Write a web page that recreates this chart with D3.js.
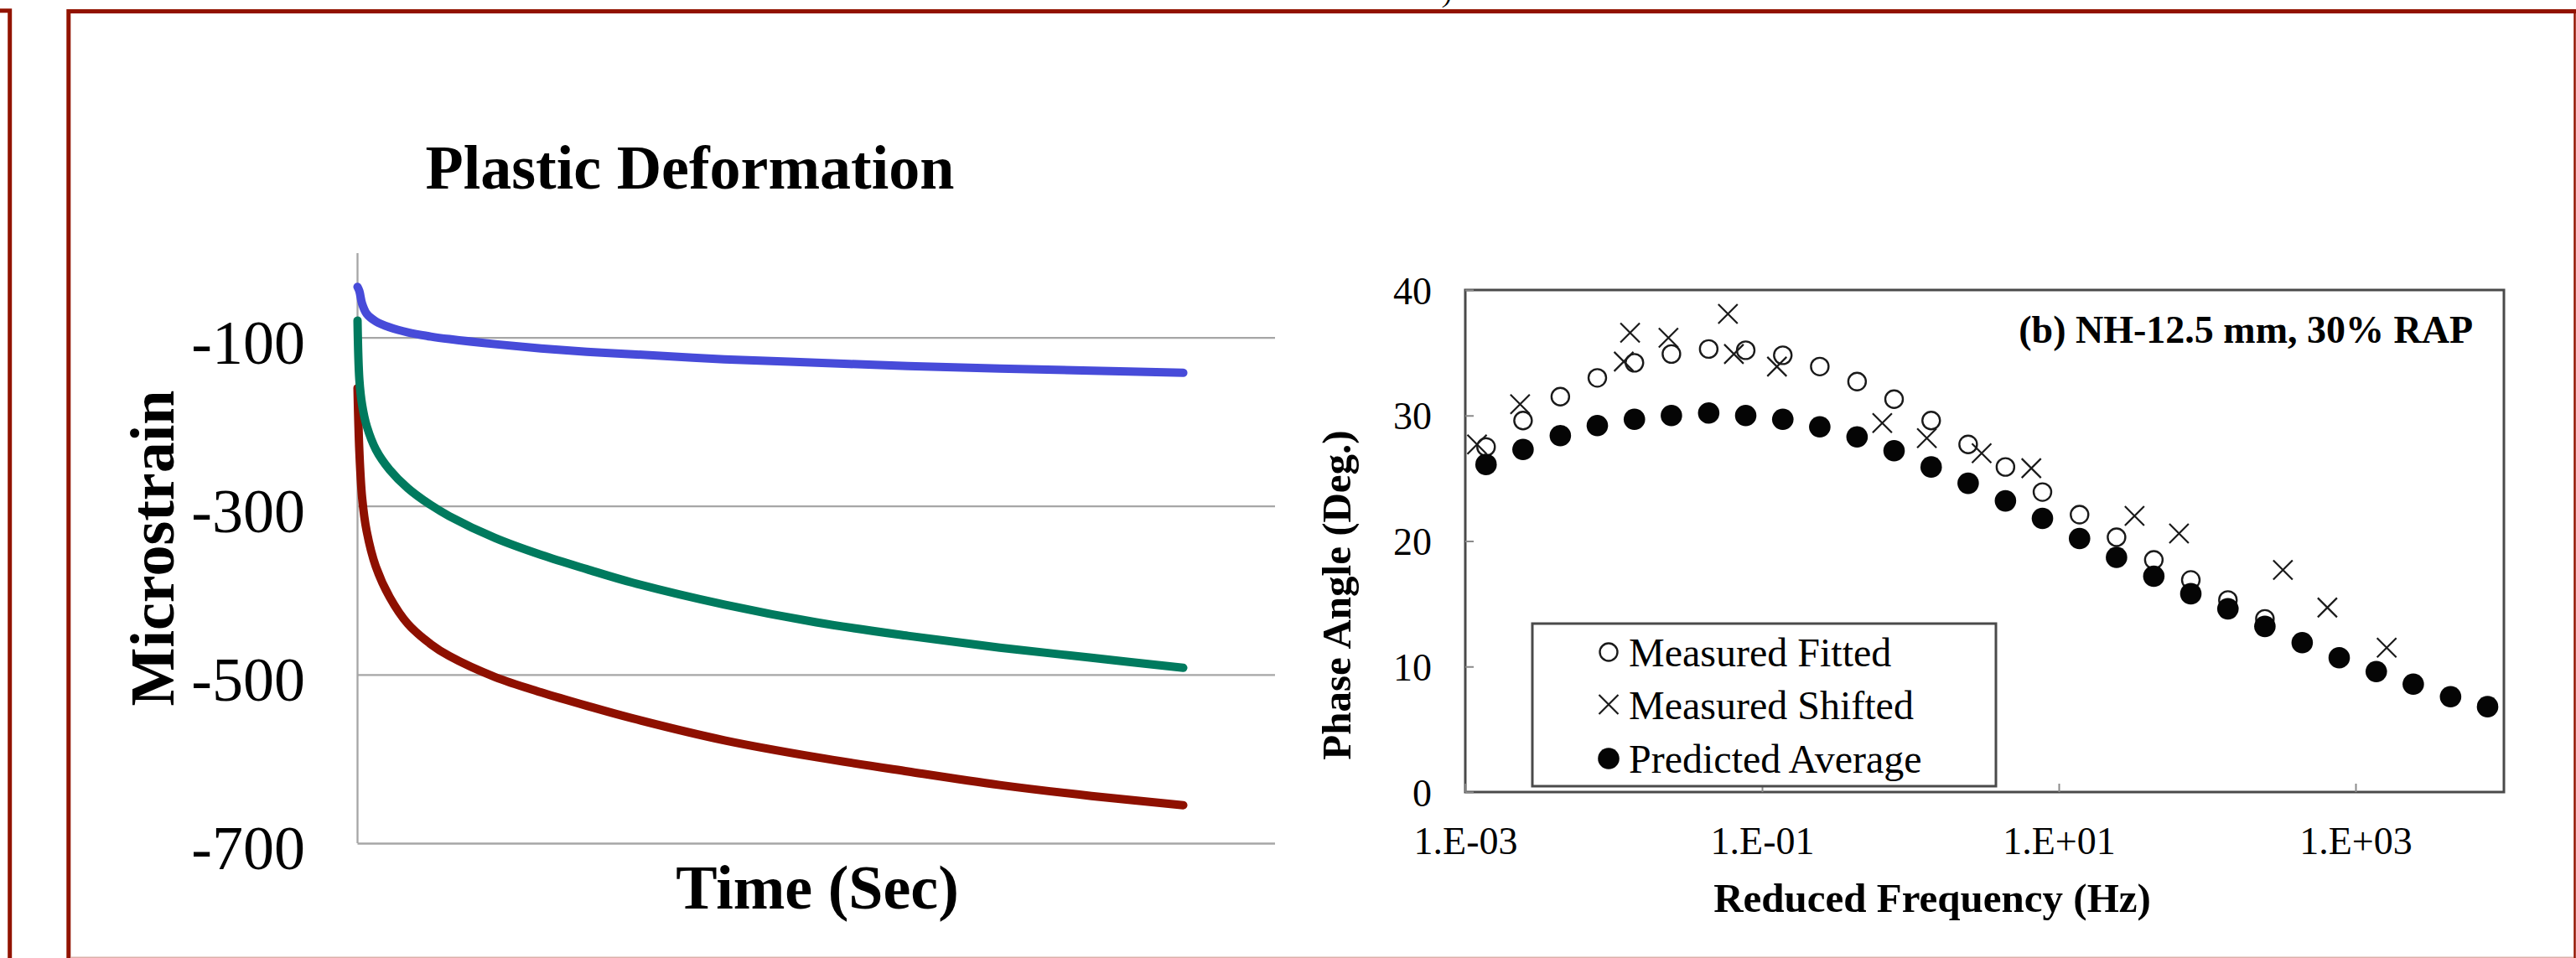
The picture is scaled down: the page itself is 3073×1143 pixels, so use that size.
<!DOCTYPE html>
<html>
<head>
<meta charset="utf-8">
<script src="https://cdn.jsdelivr.net/npm/d3@7"></script>
<style>
  body { margin: 0; background: #fff; }
  text { font-family: "Liberation Serif", "Times New Roman", serif; fill: #000; }
</style>
</head>
<body>
<svg id="chart"></svg>
<script>
// ---- left chart: plastic deformation curves ----
const timeSec = [0, 20, 50, 100, 200, 350, 550, 800, 1000, 1500, 2000, 2500, 3000, 4000, 5000, 6000, 7000, 8000, 9000];
const strainBlue = [-40, -45, -60, -72, -81, -88, -94, -99, -102, -108, -113, -117, -120, -126, -130, -134, -137, -139.5, -142];
const strainGreen = [-80, -150, -180, -205, -233, -257, -279, -299, -312, -338, -358, -375, -391, -417, -438, -454, -468, -480, -492];
const strainRed = [-160, -235, -290, -330, -372, -408, -440, -464, -478, -503, -521, -537, -552, -578, -598, -615, -631, -644, -655];
const strainTicks = [-100, -300, -500, -700];

// ---- right chart: phase angle master curve ----
const freqGrid = [0.00138, 0.00245, 0.00437, 0.00776, 0.0138, 0.0245, 0.0437, 0.0776, 0.138, 0.245, 0.437, 0.776,
  1.38, 2.45, 4.37, 7.76, 13.8, 24.5, 43.7, 77.6, 138, 245, 437, 776, 1380, 2450, 4370, 7760];
const predictedAvg = [26.1, 27.3, 28.4, 29.2, 29.7, 30.0, 30.2, 30.0, 29.7, 29.1, 28.3, 27.2,
  25.9, 24.6, 23.2, 21.8, 20.2, 18.7, 17.2, 15.8, 14.6, 13.2, 11.9, 10.7, 9.6, 8.6, 7.6, 6.8];
const measuredFitted = [27.5, 29.6, 31.5, 33.0, 34.2, 34.9, 35.3, 35.2, 34.8, 33.9, 32.7, 31.3,
  29.6, 27.7, 25.9, 23.9, 22.1, 20.3, 18.5, 16.9, 15.3, 13.8];
const shiftedFreq = [0.0012, 0.00234, 0.0117, 0.0129, 0.0234, 0.0589, 0.0646, 0.126, 0.646, 1.29, 3.02, 6.53, 32.4, 64.6, 324, 646, 1622];
const measuredShifted = [27.7, 30.9, 34.3, 36.6, 36.2, 38.1, 34.9, 33.9, 29.4, 28.2, 27.0, 25.8, 22.0, 20.6, 17.7, 14.7, 11.5];
const freqTicks = [1e-3, 1e-1, 1e1, 1e3];
const freqTickLabels = ["1.E-03", "1.E-01", "1.E+01", "1.E+03"];
const phaseTicks = [0, 10, 20, 30, 40];
const legendLabels = ["Measured Fitted", "Measured Shifted", "Predicted Average"];

const W = 3073, H = 1143;
const frameRed = "#921300";

const svg = d3.select("#chart").attr("width", W).attr("height", H);

// slide frames
svg.append("path")
  .attr("d", "M0,12.8H11.7V1150")
  .attr("fill", "none").attr("stroke", frameRed).attr("stroke-width", 5);
svg.append("path")
  .attr("d", "M81.8,1150V13.5H3075")
  .attr("fill", "none").attr("stroke", frameRed).attr("stroke-width", 5);
svg.append("line")
  .attr("x1", 3071.5).attr("x2", 3071.5).attr("y1", 14).attr("y2", H)
  .attr("stroke", frameRed).attr("stroke-width", 2.5);
svg.append("line")
  .attr("x1", 84).attr("x2", 3070).attr("y1", 1142.5).attr("y2", 1142.5)
  .attr("stroke", "#dcb0aa").attr("stroke-width", 2);
svg.append("text").attr("x", 1722).attr("y", 3)
  .style("font-size", "30px").style("font-style", "italic").text(")");

// ================= left chart =================
const xT = d3.scaleLinear().domain([0, 10000]).range([426.5, 1521]);
const yS = d3.scaleLinear().domain([-700, 0]).range([1006, 302]);

const left = svg.append("g");

// gridlines
left.append("g")
  .attr("transform", `translate(${xT(0)},0)`)
  .call(d3.axisLeft(yS).tickValues(strainTicks).tickSize(-(xT(10000) - xT(0))).tickFormat(""))
  .call((g) => g.select(".domain").remove())
  .call((g) => g.selectAll("line").attr("stroke", "#a6a6a6").attr("stroke-width", 2.3));

// vertical axis line
left.append("line")
  .attr("x1", xT(0)).attr("x2", xT(0)).attr("y1", yS(0)).attr("y2", yS(-700))
  .attr("stroke", "#a6a6a6").attr("stroke-width", 2.3);

// tick labels
left.selectAll(".ylab")
  .data(strainTicks)
  .enter()
  .append("text")
  .attr("x", 364)
  .attr("y", (d) => yS(d) + 31)
  .attr("text-anchor", "end")
  .style("font-size", "74px")
  .text((d) => "-" + Math.abs(d));

const strainLine = d3.line()
  .x((d) => xT(d[0]))
  .y((d) => yS(d[1]))
  .curve(d3.curveCatmullRom.alpha(0.5));

const series = [
  { vals: strainRed, color: "#8e1000" },
  { vals: strainGreen, color: "#007a5e" },
  { vals: strainBlue, color: "#474bd9" },
];
series.forEach((s) => {
  left.append("path")
    .datum(timeSec.map((t, i) => [t, s.vals[i]]))
    .attr("d", strainLine)
    .attr("fill", "none")
    .attr("stroke", s.color)
    .attr("stroke-width", 10)
    .attr("stroke-linecap", "round")
    .attr("stroke-linejoin", "round");
});

left.append("text")
  .attr("x", 823).attr("y", 225)
  .attr("text-anchor", "middle")
  .style("font-size", "74px").style("font-weight", "bold")
  .text("Plastic Deformation");

left.append("text")
  .attr("x", 975).attr("y", 1084)
  .attr("text-anchor", "middle")
  .style("font-size", "74px").style("font-weight", "bold")
  .text("Time (Sec)");

left.append("text")
  .attr("transform", "translate(207,654) rotate(-90)")
  .attr("text-anchor", "middle")
  .style("font-size", "74px").style("font-weight", "bold")
  .text("Microstrain");

// ================= right chart =================
const xF = d3.scaleLog().domain([1e-3, 1e4]).range([1748, 2987]);
const yP = d3.scaleLinear().domain([0, 40]).range([945, 346]);

const right = svg.append("g");
const axisGray = "#4a4a4a";

right.append("rect")
  .attr("x", xF(1e-3)).attr("y", yP(40))
  .attr("width", xF(1e4) - xF(1e-3)).attr("height", yP(0) - yP(40))
  .attr("fill", "none").attr("stroke", axisGray).attr("stroke-width", 3);

// x axis
right.append("g")
  .attr("transform", `translate(0,${yP(0)})`)
  .call(d3.axisBottom(xF).tickValues(freqTicks).tickSize(-10).tickFormat((d, i) => freqTickLabels[i]))
  .call((g) => g.select(".domain").remove())
  .call((g) => g.selectAll("line").attr("stroke", "#8a8a8a").attr("stroke-width", 2))
  .call((g) => g.selectAll("text")
    .attr("y", 74).attr("dy", 0)
    .attr("fill", "#000")
    .style("font-family", '"Liberation Serif", "Times New Roman", serif')
    .style("font-size", "46px"));

// y axis
right.append("g")
  .attr("transform", `translate(${xF(1e-3)},0)`)
  .call(d3.axisLeft(yP).tickValues(phaseTicks).tickSize(-10).tickFormat(d3.format("d")))
  .call((g) => g.select(".domain").remove())
  .call((g) => g.selectAll("line").attr("stroke", "#8a8a8a").attr("stroke-width", 2))
  .call((g) => g.selectAll("text")
    .attr("x", -40).attr("dy", 16)
    .attr("fill", "#000")
    .style("font-family", '"Liberation Serif", "Times New Roman", serif')
    .style("font-size", "46px"));

right.append("text")
  .attr("x", 2305).attr("y", 1088)
  .attr("text-anchor", "middle")
  .style("font-size", "49px").style("font-weight", "bold")
  .text("Reduced Frequency (Hz)");

right.append("text")
  .attr("transform", "translate(1611,710) rotate(-90)")
  .attr("text-anchor", "middle")
  .style("font-size", "49px").style("font-weight", "bold")
  .text("Phase Angle (Deg.)");

right.append("text")
  .attr("x", 2950).attr("y", 409)
  .attr("text-anchor", "end")
  .style("font-size", "46px").style("font-weight", "bold")
  .text("(b) NH-12.5 mm, 30% RAP");

const crossPath = (cx, cy, s) =>
  `M${cx - s},${cy - s}L${cx + s},${cy + s}M${cx - s},${cy + s}L${cx + s},${cy - s}`;

// measured fitted (open circles)
right.selectAll(".fit")
  .data(measuredFitted)
  .enter()
  .append("circle")
  .attr("cx", (d, i) => xF(freqGrid[i]))
  .attr("cy", (d) => yP(d))
  .attr("r", 10.5)
  .attr("fill", "none")
  .attr("stroke", "#1a1a1a")
  .attr("stroke-width", 2.4);

// predicted average (filled)
right.selectAll(".pred")
  .data(predictedAvg)
  .enter()
  .append("circle")
  .attr("cx", (d, i) => xF(freqGrid[i]))
  .attr("cy", (d) => yP(d))
  .attr("r", 12.8)
  .attr("fill", "#050505");

// measured shifted (crosses)
right.selectAll(".shift")
  .data(measuredShifted)
  .enter()
  .append("path")
  .attr("d", (d, i) => crossPath(xF(shiftedFreq[i]), yP(d), 11.5))
  .attr("fill", "none")
  .attr("stroke", "#1a1a1a")
  .attr("stroke-width", 2.2);

// legend
const lg = right.append("g");
lg.append("rect")
  .attr("x", 1828).attr("y", 744).attr("width", 553).attr("height", 194)
  .attr("fill", "#fff").attr("stroke", axisGray).attr("stroke-width", 3);
const rowY = [778, 840.5, 905];
lg.append("circle").attr("cx", 1919).attr("cy", rowY[0]).attr("r", 10.5)
  .attr("fill", "none").attr("stroke", "#1a1a1a").attr("stroke-width", 2.4);
lg.append("path").attr("d", crossPath(1919, rowY[1], 11.5))
  .attr("fill", "none").attr("stroke", "#1a1a1a").attr("stroke-width", 2.2);
lg.append("circle").attr("cx", 1919).attr("cy", rowY[2]).attr("r", 12.8).attr("fill", "#050505");
lg.selectAll(".lt")
  .data(legendLabels)
  .enter()
  .append("text")
  .attr("x", 1943)
  .attr("y", (d, i) => rowY[i] + 17)
  .style("font-size", "48px")
  .text((d) => d);
</script>
</body>
</html>
